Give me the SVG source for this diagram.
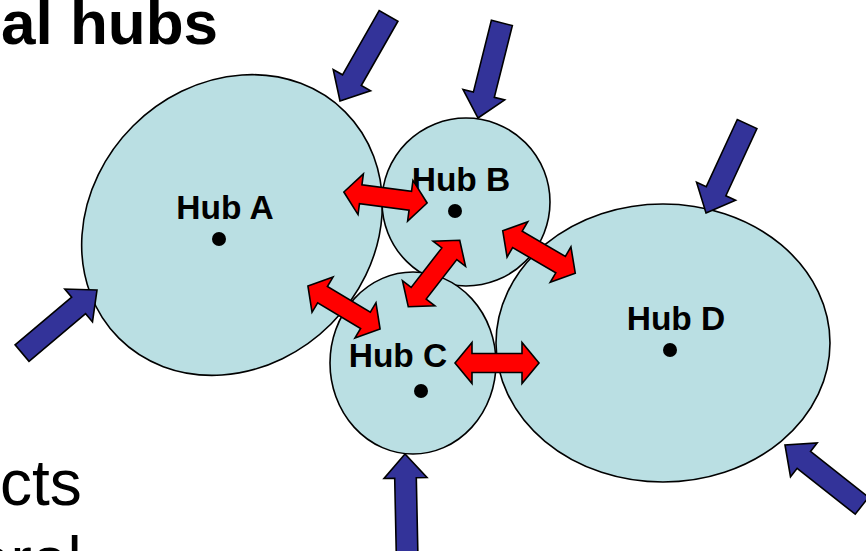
<svg xmlns="http://www.w3.org/2000/svg" width="866" height="551" viewBox="0 0 866 551">
<defs>
<style>
.hub{fill:#BADFE3;stroke:#000;stroke-width:1.6}
.lbl{font-family:"Liberation Sans",Arial,sans-serif;font-weight:bold;font-size:33.5px;fill:#000;text-anchor:middle}
.dot{fill:#000}
.in{fill:#333399;stroke:#000;stroke-width:1.6;stroke-linejoin:miter}
.link{fill:#FF0000;stroke:#000;stroke-width:1.6;stroke-linejoin:miter}
.body{font-family:"Liberation Sans",Arial,sans-serif;fill:#000}
</style>
<path id="blue" d="M0,0 L-24,-21.5 L-24,-10.8 L-98,-10.8 L-98,10.8 L-24,10.8 L-24,21.5 Z"/>
<path id="red" d="M-42,0 L-25,-20.5 L-25,-9.5 L25,-9.5 L25,-20.5 L42,0 L25,20.5 L25,9.5 L-25,9.5 L-25,20.5 Z"/>
</defs>
<rect width="866" height="551" fill="#fff"/>
<text class="body" x="218" y="44" font-size="62" font-weight="bold" text-anchor="end">al hubs</text>
<text class="body" x="0" y="505" font-size="64">cts</text>
<text class="body" x="-25" y="582" font-size="64">eral</text>
<g id="hubA"><ellipse class="hub" cx="232" cy="225" rx="160" ry="140" transform="rotate(-45 232 225)"/></g>
<g id="hubB"><circle class="hub" cx="466" cy="202" r="84"/></g>
<g id="hubC"><ellipse class="hub" cx="413" cy="363" rx="83" ry="91"/></g>
<g id="hubD"><ellipse class="hub" cx="663" cy="343" rx="167" ry="139"/></g>
<g id="labels">
<text class="lbl" x="225" y="219">Hub A</text><circle class="dot" cx="219" cy="239" r="7"/>
<text class="lbl" x="461" y="191">Hub B</text><circle class="dot" cx="455" cy="211" r="7"/>
<text class="lbl" x="398" y="367">Hub C</text><circle class="dot" cx="421" cy="391" r="7"/>
<text class="lbl" x="676" y="330">Hub D</text><circle class="dot" cx="670" cy="350" r="7"/>
</g>
<g id="connectors">
<use href="#red" class="link" transform="translate(385.5 197.5) rotate(7.5)"/>
<use href="#red" class="link" transform="translate(344 307.5) rotate(30.8)"/>
<use href="#red" class="link" transform="translate(434 273.5) rotate(-52.2)"/>
<use href="#red" class="link" transform="translate(539 252) rotate(30.3)"/>
<use href="#red" class="link" transform="translate(497 363)"/>
<use href="#blue" class="in" transform="translate(340 101) rotate(119.7)"/>
<use href="#blue" class="in" transform="translate(478 118) rotate(104.1)"/>
<use href="#blue" class="in" transform="translate(706 213) rotate(114.8)"/>
<use href="#blue" class="in" transform="translate(97 290) rotate(-40.1)"/>
<use href="#blue" class="in" transform="translate(405 454) rotate(-91.2)"/>
<use href="#blue" class="in" transform="translate(785 445) rotate(-141.7)"/>
</g>
</svg>
